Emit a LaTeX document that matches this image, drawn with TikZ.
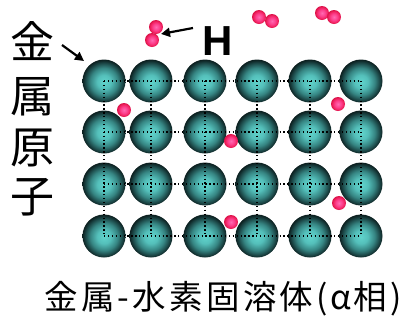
\documentclass[tikz,border=0pt]{standalone}
\usepackage{fontspec}
\newfontfamily\jpfont{Noto Sans CJK JP}
\newfontfamily\jpwide[LetterSpace=10]{Noto Sans CJK JP}
\newfontfamily\latinsans{Liberation Sans}
\usetikzlibrary{arrows.meta}

% shaded spheres: metal atoms (teal) and hydrogen atoms (pink)
\pgfdeclareradialshading{metalball}{\pgfpoint{0bp}{-1bp}}{%
  rgb(0bp)=(0.38,0.83,0.80);
  rgb(8bp)=(0.33,0.75,0.73);
  rgb(16bp)=(0.21,0.52,0.51);
  rgb(22bp)=(0.10,0.26,0.26);
  rgb(25bp)=(0.05,0.13,0.13);
  rgb(50bp)=(0.05,0.13,0.13)}
\pgfdeclareradialshading{hydroball}{\pgfpoint{0bp}{0bp}}{%
  rgb(0bp)=(1.00,0.42,0.70);
  rgb(12bp)=(0.99,0.25,0.55);
  rgb(21bp)=(0.94,0.12,0.36);
  rgb(25bp)=(0.85,0.07,0.28);
  rgb(50bp)=(0.85,0.07,0.28)}

\tikzset{
  metal/.style={circle, minimum size=43pt, inner sep=0pt, shading=metalball},
  hydro/.style={circle, minimum size=14pt, inner sep=0pt, shading=hydroball},
  gridline/.style={black, line width=1.3pt, dash pattern=on 1.3pt off 2.6pt},
  pointer/.style={black, line width=2.2pt, -{Triangle[length=9pt,width=9pt]}},
  vlabel/.style={font=\jpfont\fontsize{44}{44}\selectfont, inner sep=0pt},
  caption/.style={font=\jpwide\fontsize{33.5}{33.5}\selectfont, inner sep=0pt}
}

\begin{document}
\begin{tikzpicture}[x=1pt, y=-1pt]
  \useasboundingbox (0,0) rectangle (408,325);

  % lattice of metal atoms
  \foreach \yy [count=\i] in {81,132,184,236} {
    \foreach \xx [count=\j] in {104,151,205,257,310,361} {
      \node[metal] (m\i\j) at (\xx,\yy) {};
    }
  }

  % dotted lattice lines through the atom centres
  \foreach \i in {1,...,4} {
    \draw[gridline] (m\i1.center) -- (m\i6.center);
  }
  \foreach \j in {1,...,6} {
    \draw[gridline] (m1\j.center) -- (m4\j.center);
  }

  % hydrogen molecules above the surface
  \node[hydro] (h1) at (156,27) {};
  \node[hydro] (h2) at (152,40) {};
  \node[hydro] (h3) at (259,17) {};
  \node[hydro] (h4) at (272,21) {};
  \node[hydro] (h5) at (322,13) {};
  \node[hydro] (h6) at (334,17) {};

  % dissolved hydrogen atoms
  \node[hydro] (h7) at (338,104) {};
  \node[hydro] (h8) at (124,110) {};
  \node[hydro] (h9) at (231,141) {};
  \node[hydro] (h10) at (339,203) {};
  \node[hydro] (h11) at (231,222) {};

  % labels
  \node[font=\latinsans\bfseries\fontsize{42}{42}\selectfont, inner sep=0pt] (hlab) at (218,41) {H};
  \node[vlabel] (k1) at (33,41.5) {金};
  \node[vlabel] (k2) at (33,97) {属};
  \node[vlabel] (k3) at (33,148) {原};
  \node[vlabel] (k4) at (33,197.5) {子};
  \node[caption] (cap) at (223,299)
    {金属\kern3pt-\kern3pt水素固溶体\kern3pt(\kern3ptα\kern2pt相\kern3pt)};

  % pointers
  \coordinate (htail) at (193,28);
  \coordinate (htip) at (161,34);
  \draw[pointer] (htail) -- (htip);
  \coordinate (mtail) at (62,45);
  \coordinate (mtip) at (84,61);
  \draw[pointer] (mtail) -- (mtip);
\end{tikzpicture}
\end{document}
